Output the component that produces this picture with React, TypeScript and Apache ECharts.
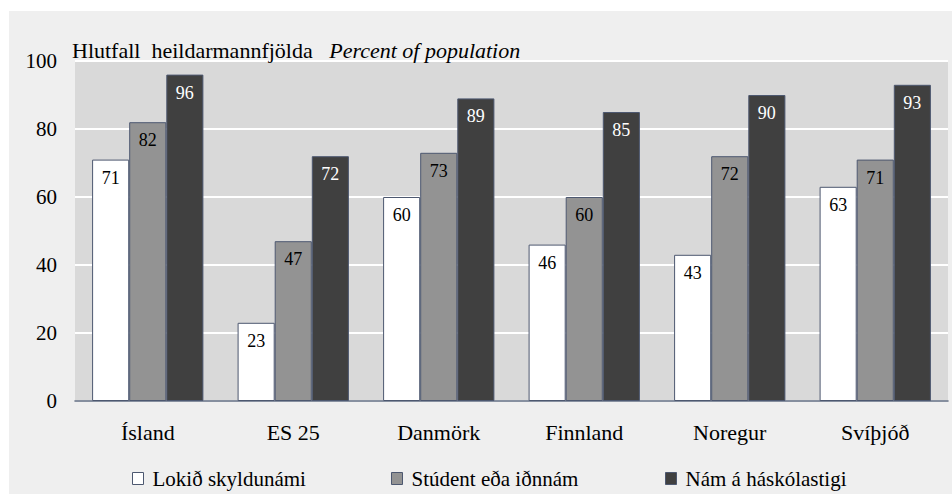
import React, { useEffect, useRef } from "react";
import * as echarts from "echarts";

const categories = ["Ísland", "ES 25", "Danmörk", "Finnland", "Noregur", "Svíþjóð"];
const seriesNames = ["Lokið skyldunámi", "Stúdent eða iðnnám", "Nám á háskólastigi"];
const compulsory = [71, 23, 60, 46, 43, 63];
const upperSecondary = [82, 47, 73, 60, 72, 71];
const tertiary = [96, 72, 89, 85, 90, 93];
const yTicks = [0, 20, 40, 60, 80, 100];

const FONT = "Liberation Serif";
const colors = ["#ffffff", "#939393", "#404040"];
const labelColors = ["#000000", "#000000", "#ffffff"];
const legendLefts = [127, 386, 660];

export default function App() {
  const ref = useRef<HTMLDivElement>(null);
  useEffect(() => {
    document.body.style.margin = "0";
    const chart = echarts.init(ref.current!, null, { renderer: "svg" });
    const data = [compulsory, upperSecondary, tertiary];
    chart.setOption({
      animation: false,
      textStyle: { fontFamily: FONT },
      graphic: [
        {
          type: "rect",
          z: -10,
          silent: true,
          shape: { x: 9, y: 11, width: 952 - 9, height: 494 - 11 },
          style: { fill: "#efefef" },
        },
      ],
      title: {
        left: 67,
        top: 34,
        text: "{a|Hlutfall  heildarmannfjölda}   {b|Percent of population}",
        textStyle: {
          fontWeight: "normal",
          fontFamily: FONT,
          fontSize: 22,
          rich: {
            a: { fontFamily: FONT, fontSize: 22, fontWeight: "normal", color: "#000" },
            b: { fontFamily: FONT, fontSize: 22, fontWeight: "normal", fontStyle: "italic", color: "#000" },
          },
        },
      },
      legend: seriesNames.map((n, i) => ({
        left: legendLefts[i],
        top: 463,
        itemWidth: 11,
        itemHeight: 12,
        textStyle: { fontFamily: FONT, fontSize: 21, color: "#000", padding: [0, 0, 0, 4] },
        data: [
          {
            name: n,
            icon: "rect",
            itemStyle: { color: colors[i], borderColor: "#4d5870", borderWidth: 1 },
          },
        ],
      })),
      grid: {
        left: 75,
        right: 4,
        top: 61,
        bottom: 93,
        show: true,
        backgroundColor: "#d9d9d9",
        borderWidth: 0,
      },
      xAxis: {
        type: "category",
        data: categories,
        axisLine: { show: true, lineStyle: { color: "#5f6b80", width: 1.5 } },
        axisTick: { show: false },
        axisLabel: { margin: 20, fontSize: 22, color: "#000", fontFamily: FONT },
      },
      yAxis: {
        type: "value",
        min: yTicks[0],
        max: yTicks[yTicks.length - 1],
        interval: 20,
        axisLine: { show: false },
        axisTick: { show: false },
        axisLabel: { margin: 18, fontSize: 21, color: "#000", fontFamily: FONT },
        splitLine: { show: true, lineStyle: { color: "#ffffff", width: 2 } },
      },
      series: seriesNames.map((name, i) => ({
        name,
        type: "bar",
        data: data[i],
        barGap: "0%",
        barCategoryGap: "23.5%",
        itemStyle: { color: colors[i], borderColor: "#4d5870", borderWidth: 1 },
        label: {
          show: true,
          position: "insideTop",
          distance: 9,
          fontSize: 18,
          fontFamily: FONT,
          color: labelColors[i],
        },
      })),
    });
    return () => chart.dispose();
  }, []);
  return <div ref={ref} style={{ width: 952, height: 494 }} />;
}
